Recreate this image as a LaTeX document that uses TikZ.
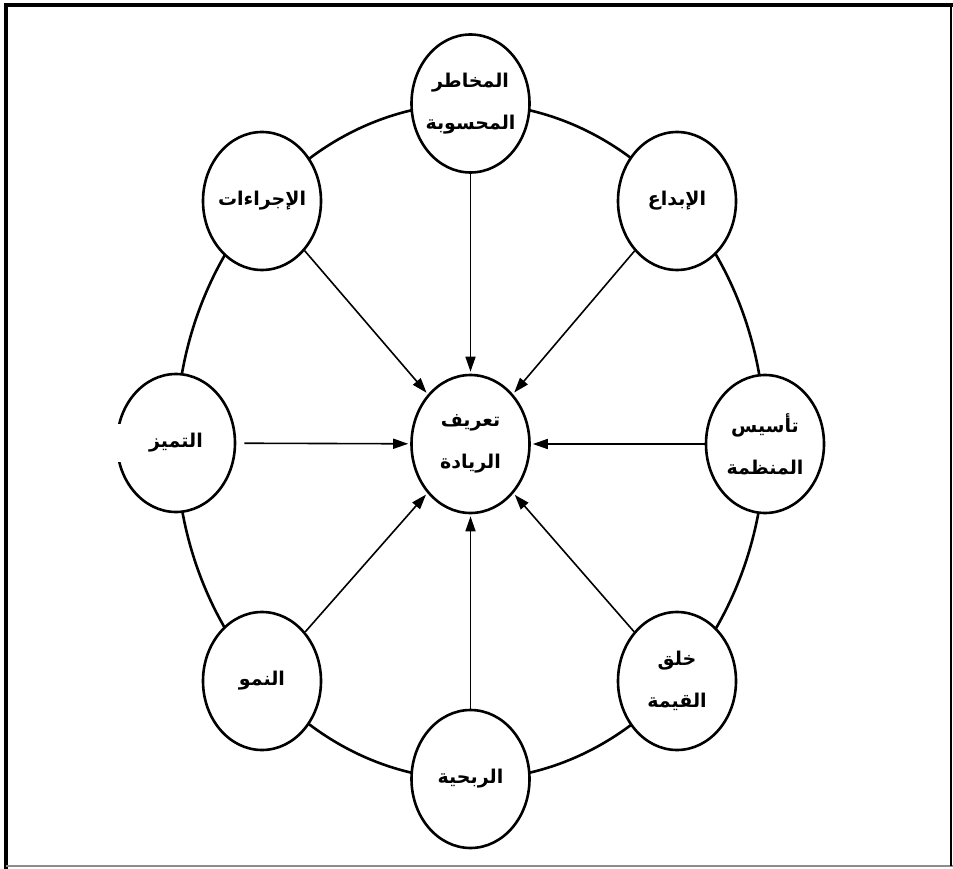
\documentclass[tikz,border=0pt]{standalone}
\usepackage{fontspec}
\newfontfamily\arabicfont[Script=Arabic]{DejaVu Sans}
\TeXXeTstate=1
\usetikzlibrary{shapes.geometric,arrows.meta}
\tikzset{
  bubble/.style={ellipse, draw=black, line width=2.6pt, fill=white,
    minimum width=118pt, minimum height=138pt, inner xsep=-14pt, inner ysep=-10pt, align=center,
    font=\arabicfont\bfseries\fontsize{19}{42}\selectfont},
  ring/.style={line width=2.6pt, draw=black},
  spoke/.style={line width=1.6pt, -{Triangle[length=15pt,width=10pt]}, shorten >=2pt},
}
\begin{document}
\begin{tikzpicture}[x=1pt,y=-1pt]
\useasboundingbox (0,0) rectangle (953,869);
\fill[white] (0,0) rectangle (953,869);
% frame
\draw[line width=4pt] (6,869) -- (6,5) -- (953,5);
\draw[line width=1.5pt, black!45] (6,866) -- (953,866);
\draw[line width=1.5pt] (951,5) -- (951,866);
% ring
\draw[ring] (470.5,441.5) ellipse [x radius=294.5, y radius=338];
% nodes
\node[bubble] (c)  at (470.5,444) {\beginR تعريف\endR\\\beginR الريادة\endR};
\node[bubble] (t)  at (470.5,103.5) {\beginR المخاطر\endR\\\beginR المحسوبة\endR};
\node[bubble] (tl) at (262,201) {\beginR الإجراءات\endR};
\node[bubble] (tr) at (677,201) {\beginR الإبداع\endR};
\node[bubble] (l)  at (176,443) {\beginR التميز\endR};
\node[bubble] (r)  at (765,444) {\beginR تأسيس\endR\\\beginR المنظمة\endR};
\node[bubble] (bl) at (262,681) {\beginR النمو\endR};
\node[bubble] (br) at (677,681) {\beginR خلق\endR\\\beginR القيمة\endR};
\node[bubble] (b)  at (470.5,779) {\beginR الربحية\endR};
% gap in the left bubble outline
\fill[white] (110,424) rectangle (124,462);
% spokes
\draw[spoke] (t)  -- (c);
\draw[spoke] (tl) -- (c);
\draw[spoke] (tr) -- (c);
\draw[spoke, shorten <=8pt] (l) -- (c);
\draw[spoke] (r)  -- (c);
\draw[spoke] (bl) -- (c);
\draw[spoke] (br) -- (c);
\draw[spoke] (b)  -- (c);
\end{tikzpicture}
\end{document}
